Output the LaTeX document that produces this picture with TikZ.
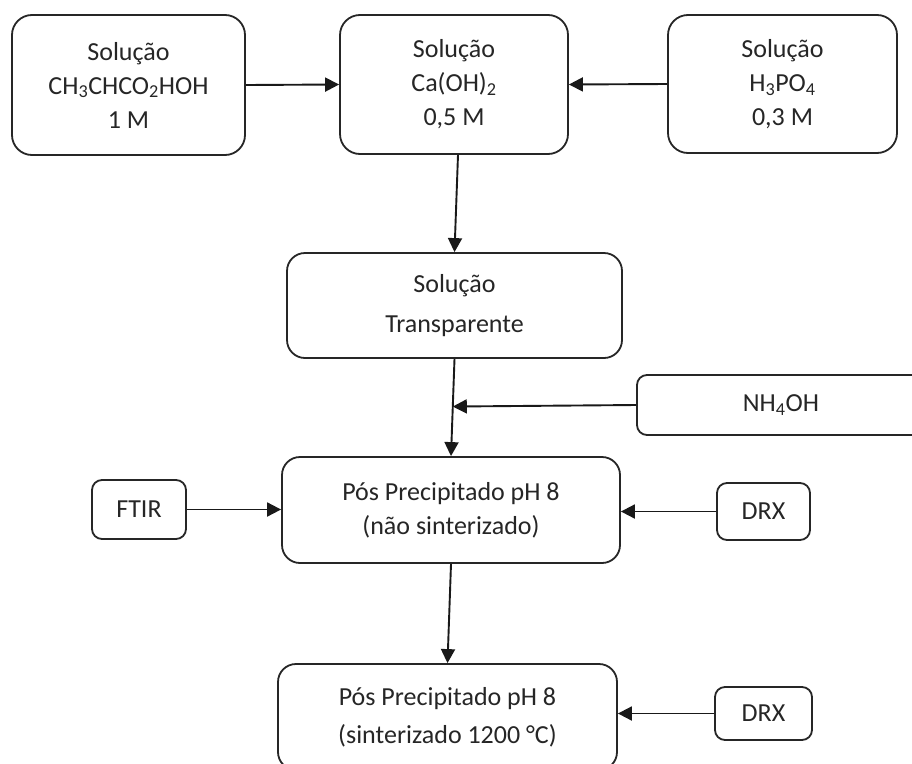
\documentclass[tikz,border=0pt]{standalone}
\usepackage{fontspec}
\setmainfont{Carlito}
\usetikzlibrary{arrows.meta,calc}
\begin{document}
\begin{tikzpicture}[x=1pt,y=-1pt,
  box/.style={draw=black!85, line width=1.8pt, rounded corners=#1, align=center,
    text=black!85, inner sep=0pt, font=\fontsize{26}{34}\selectfont},
  box/.default=18pt,
  arr/.style={draw=black!90, line width=1.9pt, -{Triangle[length=14pt,width=14pt]}}]
\useasboundingbox (0,0) rectangle (912,763);
\clip (0,0) rectangle (912,763);
\fill[white] (0,0) rectangle (912,763);

% top row of solutions
\node[box=20pt, minimum width=233pt, minimum height=140pt] (A) at (128.5,85)
  {Solução\\CH\textsubscript{3}CHCO\textsubscript{2}HOH\\1 M};
\node[box=20pt, minimum width=228pt, minimum height=139pt] (B) at (454,84.5)
  {Solução\\Ca(OH)\textsubscript{2}\\0,5 M};
\node[box=20pt, minimum width=229pt, minimum height=138pt] (C) at (782.5,84)
  {Solução\\H\textsubscript{3}PO\textsubscript{4}\\0,3 M};

% intermediate solution and reagent
\node[box, minimum width=335pt, minimum height=105pt,
  font=\fontsize{26}{40}\selectfont] (D) at (454.5,305.5)
  {Solução\\Transparente};
\node[box=10pt, minimum width=288pt, minimum height=60pt] (N) at (781,405)
  {NH\textsubscript{4}OH};

% precipitated powder and characterisation
\node[box, minimum width=338pt, minimum height=106pt] (E) at (451,510)
  {Pós Precipitado pH 8\\(não sinterizado)};
\node[box=10pt, minimum width=94pt, minimum height=59pt] (FT) at (139,509.5) {FTIR};
\node[box=10pt, minimum width=93pt, minimum height=57pt] (X1) at (763.5,511.5) {DRX};

\node[box, minimum width=339pt, minimum height=106pt,
  font=\fontsize{26}{38}\selectfont] (F) at (447.5,717)
  {Pós Precipitado pH 8\\(sinterizado 1200 °C)};
\node[box=10pt, minimum width=97pt, minimum height=53pt] (X2) at (763.5,713.5) {DRX};

% connectors
\draw[arr] (A.east) -- (B.west);
\draw[arr] (C.west) -- (B.east);
\draw[arr] ([xshift=4pt]B.south) -- (D.north);
\draw[arr] (D.south) -- (E.north);
\coordinate (j) at ($(D.south)!0.49!(E.north)$);
\draw[arr] (N.west) -- (j);
\draw[arr] (FT.east) -- (FT.east -| E.west);
\draw[arr] (X1.west) -- (X1.west -| E.east);
\draw[arr] (E.south) -- (F.north);
\draw[arr] (X2.west) -- (X2.west -| F.east);
\end{tikzpicture}
\end{document}
